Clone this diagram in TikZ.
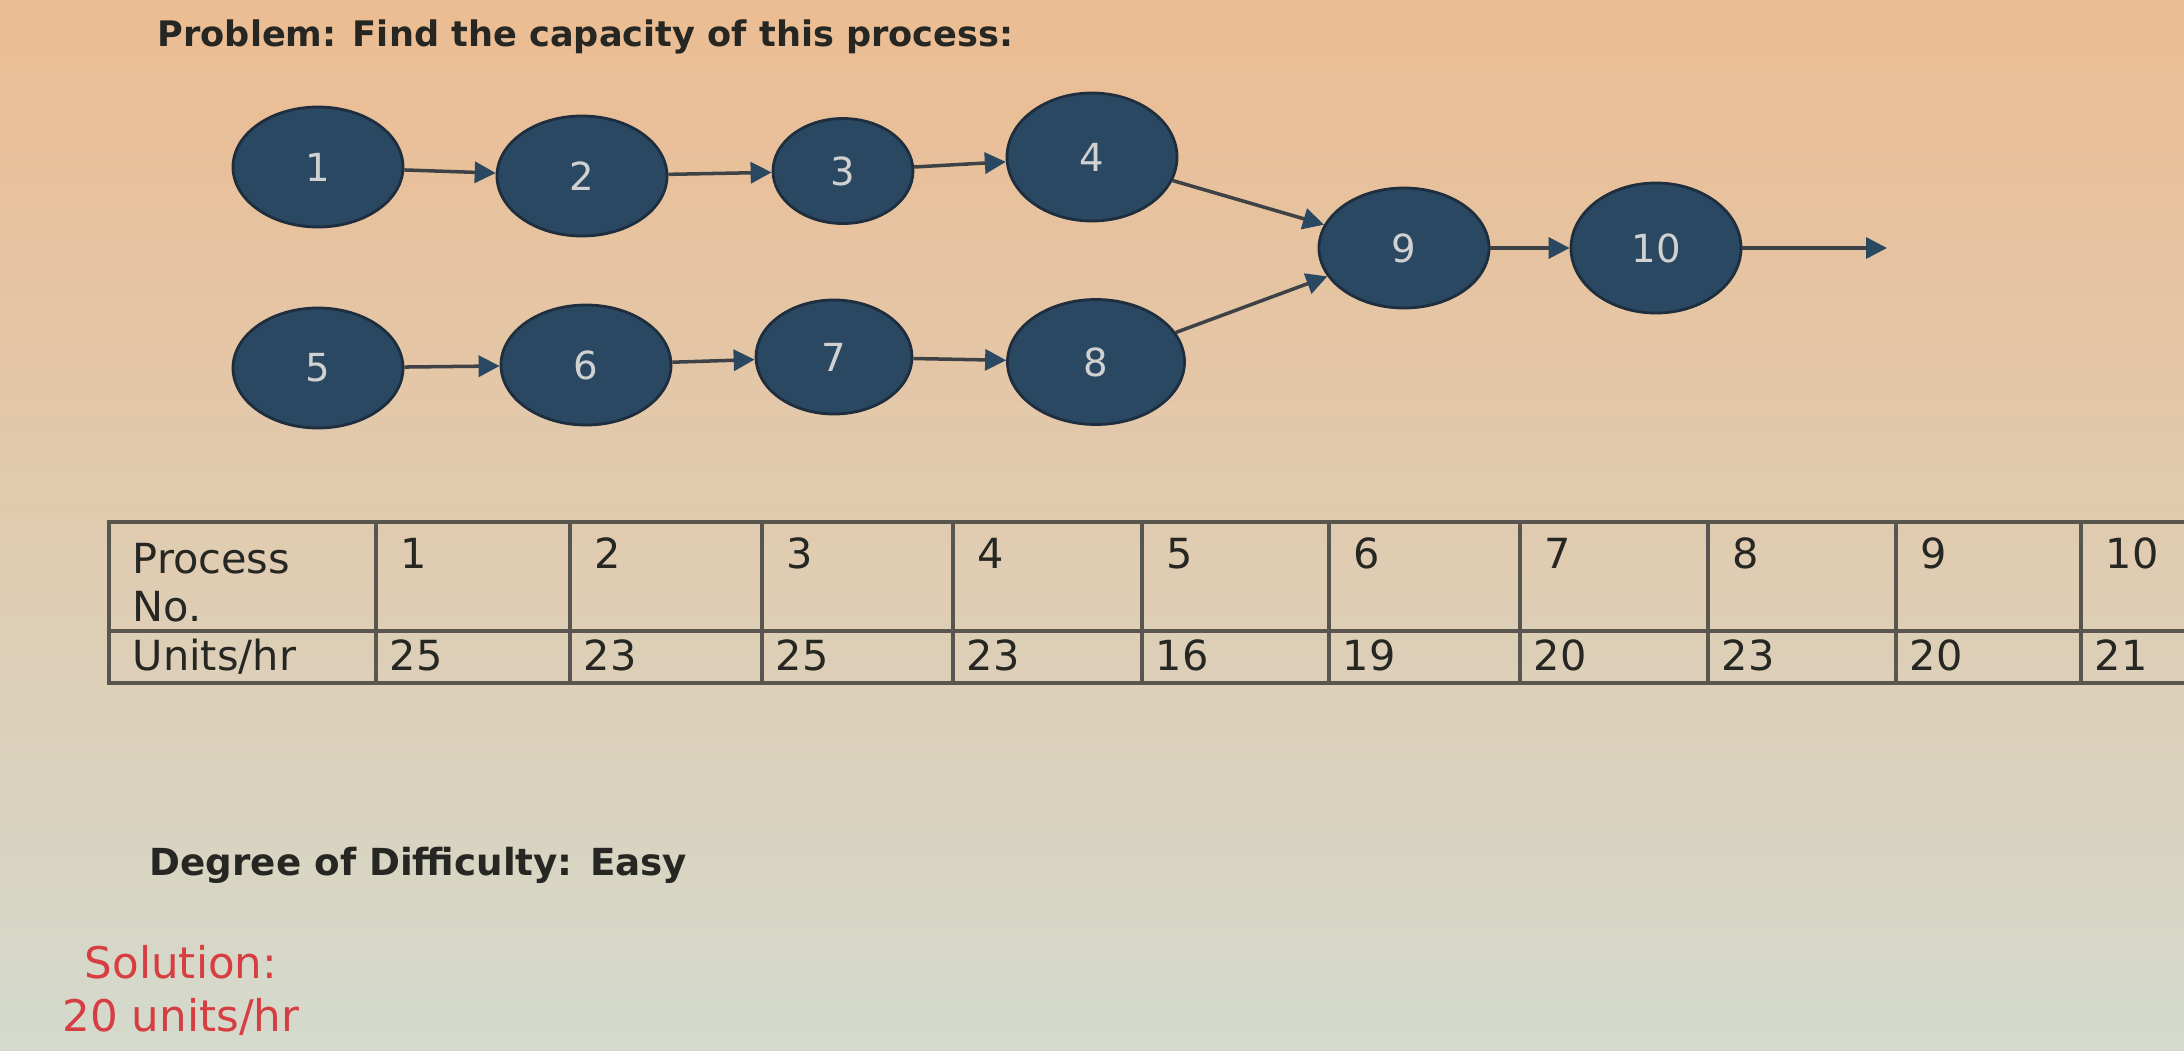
\documentclass[tikz,border=0pt]{standalone}
\usepackage{fontspec}
\setmainfont{DejaVu Sans}
\usetikzlibrary{shapes.geometric,arrows.meta}

\definecolor{nodeblue}{RGB}{42,72,98}
\definecolor{nodeedge}{RGB}{30,46,62}
\definecolor{arrowgray}{RGB}{62,66,70}
\definecolor{gridgray}{RGB}{88,86,78}
\definecolor{solred}{RGB}{214,62,66}
\definecolor{inkdark}{RGB}{38,38,34}
\definecolor{bgtop}{RGB}{236,188,146}
\definecolor{bgmid}{RGB}{228,212,186}
\definecolor{bgbot}{RGB}{212,218,205}

\tikzset{pn/.style={ellipse, draw=nodeedge, line width=0.8pt, fill=nodeblue, text=black!18, minimum width=1.7cm, minimum height=1.2cm, inner sep=0pt, font=\fontsize{11}{13}\selectfont}}
\tikzset{flow/.style={draw=arrowgray, line width=1pt, -{Triangle[length=2.1mm, width=2.1mm, color=nodeblue]}}}
\tikzset{cell/.style={anchor=base west, inner sep=0pt, text=inkdark, font=\fontsize{11.8}{13.4}\selectfont}}

\begin{document}
\begin{tikzpicture}[]
    \useasboundingbox (0,0) rectangle (21.84,-10.5);
    \shade[top color=bgtop, middle color=bgmid, bottom color=bgbot] (0,0) rectangle (21.84,-10.5);
    \clip (0,0) rectangle (21.84,-10.5);

    \node[anchor=base west, inner sep=0pt, text=inkdark, font=\bfseries\fontsize{10}{12}\selectfont] (title) at (1.57,-0.46) {Problem: Find the capacity of this process:};

    \node[pn] (p1) at (3.18,-1.67) {1};
    \node[pn] (p2) at ([xshift=2.64cm, yshift=-0.09cm] p1) {2};
    \node[pn, minimum width=1.4cm, minimum height=1.05cm] (p3) at ([xshift=5.25cm, yshift=-0.04cm] p1) {3};
    \node[pn, minimum height=1.28cm] (p4) at ([xshift=7.74cm, yshift=0.1cm] p1) {4};

    \node[pn] (p5) at ([yshift=-2.01cm] p1) {5};
    \node[pn] (p6) at ([xshift=2.68cm, yshift=-1.98cm] p1) {6};
    \node[pn, minimum width=1.56cm, minimum height=1.14cm] (p7) at ([xshift=5.16cm, yshift=-1.9cm] p1) {7};
    \node[pn, minimum width=1.77cm, minimum height=1.25cm] (p8) at ([xshift=7.78cm, yshift=-1.95cm] p1) {8};

    \node[pn] (p9) at ([xshift=10.86cm, yshift=-0.81cm] p1) {9};
    \node[pn, minimum height=1.3cm] (p10) at ([xshift=13.38cm, yshift=-0.81cm] p1) {10};
    \coordinate (exit) at ([xshift=2.31cm] p10);

    \draw[flow] (p1) -- (p2);
    \draw[flow] (p2) -- (p3);
    \draw[flow] (p3) -- (p4);
    \draw[flow] (p5) -- (p6);
    \draw[flow] (p6) -- (p7);
    \draw[flow] (p7) -- (p8);
    \draw[flow] (p4) -- (p9);
    \draw[flow] (p8) -- (p9);
    \draw[flow] (p9) -- (p10);
    \draw[flow] (p10.east) -- (exit);

    % table
    \draw[gridgray, line width=1.3pt] (22.3,-5.22) -- (1.09,-5.22) -- (1.09,-6.83) -- (22.3,-6.83);
    \draw[gridgray, line width=1pt] (1.09,-6.31) -- (22.3,-6.31);
    \draw[gridgray, line width=0.9pt] (3.76,-5.22) -- (3.76,-6.83) (5.70,-5.22) -- (5.70,-6.83)
        (7.62,-5.22) -- (7.62,-6.83) (9.53,-5.22) -- (9.53,-6.83) (11.42,-5.22) -- (11.42,-6.83)
        (13.29,-5.22) -- (13.29,-6.83) (15.20,-5.22) -- (15.20,-6.83) (17.08,-5.22) -- (17.08,-6.83)
        (18.96,-5.22) -- (18.96,-6.83) (20.81,-5.22) -- (20.81,-6.83);

    \node[cell, anchor=north west, align=left] (proc) at (1.32,-5.43) {Process\\No.};
    \node[cell] (units) at (1.32,-6.70) {Units/hr};

    \node[cell] (h1) at (4.00,-5.68) {1};
    \node[cell] (h2) at (5.94,-5.68) {2};
    \node[cell] (h3) at (7.86,-5.68) {3};
    \node[cell] (h4) at (9.77,-5.68) {4};
    \node[cell] (h5) at (11.66,-5.68) {5};
    \node[cell] (h6) at (13.53,-5.68) {6};
    \node[cell] (h7) at (15.44,-5.68) {7};
    \node[cell] (h8) at (17.32,-5.68) {8};
    \node[cell] (h9) at (19.20,-5.68) {9};
    \node[cell] (h10) at (21.05,-5.68) {10};

    \node[cell] (u1) at (3.89,-6.70) {25};
    \node[cell] (u2) at (5.83,-6.70) {23};
    \node[cell] (u3) at (7.75,-6.70) {25};
    \node[cell] (u4) at (9.66,-6.70) {23};
    \node[cell] (u5) at (11.55,-6.70) {16};
    \node[cell] (u6) at (13.42,-6.70) {19};
    \node[cell] (u7) at (15.33,-6.70) {20};
    \node[cell] (u8) at (17.21,-6.70) {23};
    \node[cell] (u9) at (19.09,-6.70) {20};
    \node[cell] (u10) at (20.94,-6.70) {21};

    \node[anchor=base west, inner sep=0pt, text=inkdark, font=\bfseries\fontsize{10.6}{12}\selectfont] (diff) at (1.49,-8.75) {Degree of Difficulty: Easy};

    \node[anchor=north, inner sep=0pt, align=center, text=solred, font=\fontsize{12.4}{15}\selectfont] (sol) at (1.81,-9.45) {Solution:\\20 units/hr};
\end{tikzpicture}
\end{document}
